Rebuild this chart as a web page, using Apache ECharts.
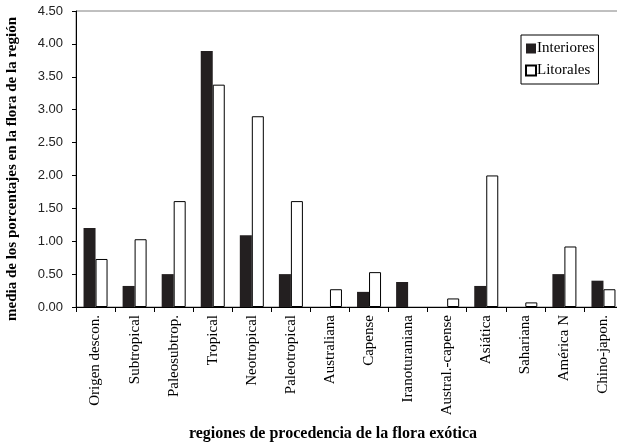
<!DOCTYPE html>
<html><head><meta charset="utf-8">
<script src="https://cdn.jsdelivr.net/npm/echarts@6/dist/echarts.min.js"></script>
<style>html,body{margin:0;padding:0;background:#fff}#c{width:617px;height:447px}</style>
</head><body><div id="c"></div>
<script>
const categories = ["Origen descon.","Subtropical","Paleosubtrop.","Tropical","Neotropical","Paleotropical","Australiana","Capense","Iranoturaniana","Austral.-capense","Asiática","Sahariana","América N","Chino-japon."];
const interiores = [1.20,0.32,0.50,3.89,1.09,0.50,0,0.23,0.38,0,0.32,0,0.50,0.40];
const litorales = [0.73,1.03,1.61,3.38,2.90,1.61,0.27,0.53,0,0.13,2.00,0.07,0.92,0.27];
const yTicks = {min:0,max:4.5,interval:0.5};
const xTitle = "regiones de procedencia de la flora exótica";
const yTitle = "media de los porcentajes en la flora de la región";

const chart = echarts.init(document.getElementById('c'), null, {renderer:'canvas'});
const serif = "'Liberation Serif','Times New Roman',serif";
const noZero = v => v === 0 ? null : v;
chart.setOption({
  animation:false,
  grid:{left:76, top:11, width:547, height:296, show:true, borderColor:'#808080', borderWidth:1, containLabel:false, outerBoundsMode:'none'},
  legend:{left:521, top:35, orient:'vertical', borderColor:'#000', borderWidth:1, padding:[6,4,6,4], itemGap:7, itemWidth:10, itemHeight:10, icon:'rect',
    textStyle:{fontFamily:serif, fontSize:15, color:'#000', padding:[0,0,0,-4]},
    data:['Interiores','Litorales']},
  xAxis:{type:'category', data:categories,
    axisLine:{lineStyle:{color:'#000', width:1}},
    axisTick:{show:true, length:5, alignWithLabel:false, lineStyle:{color:'#000'}},
    axisLabel:{rotate:90, interval:0, fontFamily:serif, fontSize:15, color:'#000', margin:8}},
  yAxis:{type:'value', min:yTicks.min, max:yTicks.max, interval:yTicks.interval,
    axisLine:{show:true, lineStyle:{color:'#000'}},
    axisTick:{show:true, length:4, lineStyle:{color:'#000'}},
    splitLine:{show:false},
    axisLabel:{formatter:v=>v.toFixed(2), fontFamily:"'Liberation Sans',Arial,sans-serif", fontSize:13, color:'#222', margin:13}},
  graphic:[
    {type:'text', x:333, y:434, style:{text:xTitle, font:"bold 16px "+serif, fill:'#000', align:'center', verticalAlign:'middle'}},
    {type:'text', x:12, y:169, rotation:Math.PI/2, style:{text:yTitle, font:"bold 15px "+serif, fill:'#000', align:'center', verticalAlign:'middle'}}
  ],
  series:[
    {name:'Interiores', type:'bar', data:interiores.map(noZero), barWidth:12, barGap:'0%', itemStyle:{color:'#231f20', borderColor:'#231f20', borderWidth:0}},
    {name:'Litorales', type:'bar', data:litorales.map(noZero), barWidth:12, barGap:'0%', itemStyle:{color:'#fff', borderColor:'#000', borderWidth:1}}
  ]
});
</script></body></html>
